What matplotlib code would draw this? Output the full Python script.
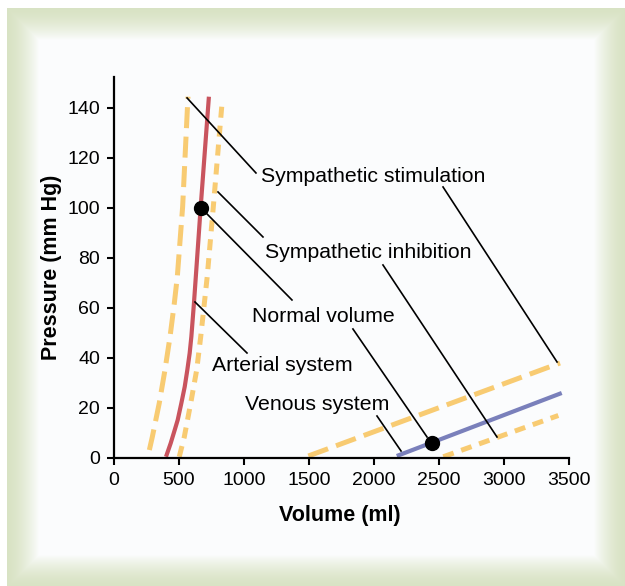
import numpy as np
import matplotlib
matplotlib.use("Agg")
from matplotlib import pyplot as plt

plt.rcParams['font.family'] = ['Liberation Sans', 'DejaVu Sans']

# Arterial curves (volume ml, pressure mm Hg)
art_normal_v = [400, 436, 467, 490, 518, 544, 564, 582, 595, 615, 633, 667, 730]
art_normal_p = [0.5, 5.9, 11.2, 15.2, 21.9, 28.5, 35.2, 41.9, 48.5, 61.9, 75.2, 100.5, 144.5]
art_stim_v = [272, 295, 348, 392, 431, 464, 487, 528, 569]
art_stim_p = [3.2, 8.5, 21.9, 35.2, 48.5, 61.9, 72.5, 100.5, 144.5]
art_inhib_v = [502, 541, 590, 636, 667, 695, 717, 764, 833]
art_inhib_p = [0.5, 8.5, 21.9, 35.2, 48.5, 61.9, 72.5, 100.5, 143.2]

# Venous lines
ven_normal_v = [2175, 3444]
ven_normal_p = [0.8, 26]
ven_stim_v = [1495, 3431]
ven_stim_p = [0.8, 38]
ven_inhib_v = [2533, 3418]
ven_inhib_p = [0.5, 17]

# normal operating points
dots_v = [667, 2449]
dots_p = [100, 6]

# labels: text, baseline position, leader lines
labels = ["Sympathetic stimulation", "Sympathetic inhibition", "Normal volume",
          "Arterial system", "Venous system"]
label_xy = [(1131, 110.5), (1162, 79.9), (1059, 54.5), (751, 34.9), (1008, 19.2)]
leaders = [
    [((562, 144), (1092, 114)), ((2531, 108.4), (3408, 38.4))],
    [((800, 106.4), (1146, 88.4)), ((2069, 77.2), (2946, 8.4))],
    [((708, 98), (1369, 63.2)), ((1838, 51.6), (2408, 8.4))],
    [((623, 62.4), (1023, 42))],
    [((2023, 16.8), (2208, 2.8))],
]

RED = '#C9545E'
ORANGE = '#F8CB72'
BLUE = '#7A80BB'

fig = plt.figure(figsize=(6.25, 5.86), dpi=100)

# background frame with green glow at the edges
W, H = 625, 586
yy, xx = np.mgrid[0:H, 0:W]
x0, x1, y0, y1 = 7, 625, 8, 586
d = np.minimum.reduce([xx - x0, x1 - xx, yy - y0, y1 - yy]).astype(float)
t = np.clip(d / 32.0, 0, 1) ** 1.6
green = np.array([0.85, 0.89, 0.77])
white = np.array([0.988, 0.992, 0.996])
img = green[None, None, :] * (1 - t[..., None]) + white[None, None, :] * t[..., None]
outside = (xx < x0) | (yy < y0)
img[outside] = 1.0
bg = fig.add_axes([0, 0, 1, 1])
bg.imshow(img, aspect='auto', interpolation='bilinear')
bg.axis('off')

ax = fig.add_axes([114 / W, 128 / H, 455 / W, 381.3 / H])
ax.patch.set_alpha(0)

ax.plot(art_stim_v, art_stim_p, color=ORANGE, lw=3.6, dashes=(4.2, 1.7))
ax.plot(art_inhib_v, art_inhib_p, color=ORANGE, lw=3.6, dashes=(2.2, 1.6))
ax.plot(art_normal_v, art_normal_p, color=RED, lw=3.0,
        solid_capstyle='butt', solid_joinstyle='round')
ax.plot(ven_stim_v, ven_stim_p, color=ORANGE, lw=3.6, dashes=(4.2, 1.7))
ax.plot(ven_inhib_v, ven_inhib_p, color=ORANGE, lw=3.6, dashes=(2.2, 1.6))
ax.plot(ven_normal_v, ven_normal_p, color=BLUE, lw=3.0, solid_capstyle='butt')

for segs in leaders:
    for (a, b) in segs:
        ax.plot([a[0], b[0]], [a[1], b[1]], color='black', lw=1.2)

ax.plot(dots_v, dots_p, 'o', color='black', ms=10, zorder=5)

for txt, (tx, ty) in zip(labels, label_xy):
    ax.text(tx, ty, txt, fontsize=15.3, ha='left', va='baseline')

ax.set_xlim(0, 3500)
ax.set_ylim(0, 152.5)
ax.set_xticks(np.arange(0, 3501, 500))
ax.set_yticks(np.arange(0, 141, 20))
for s in ['top', 'right']:
    ax.spines[s].set_visible(False)
for s in ['left', 'bottom']:
    ax.spines[s].set_linewidth(1.6)
ax.tick_params(direction='out', length=5, width=1.5, labelsize=14, pad=5)
ax.set_xlabel('Volume (ml)', fontsize=15.5, fontweight='bold')
ax.set_ylabel('Pressure (mm Hg)', fontsize=15.5, fontweight='bold')
ax.xaxis.set_label_coords(0.497, -0.123)
ax.yaxis.set_label_coords(-0.114, 0.5)

fig.savefig('out.png', dpi=100)
